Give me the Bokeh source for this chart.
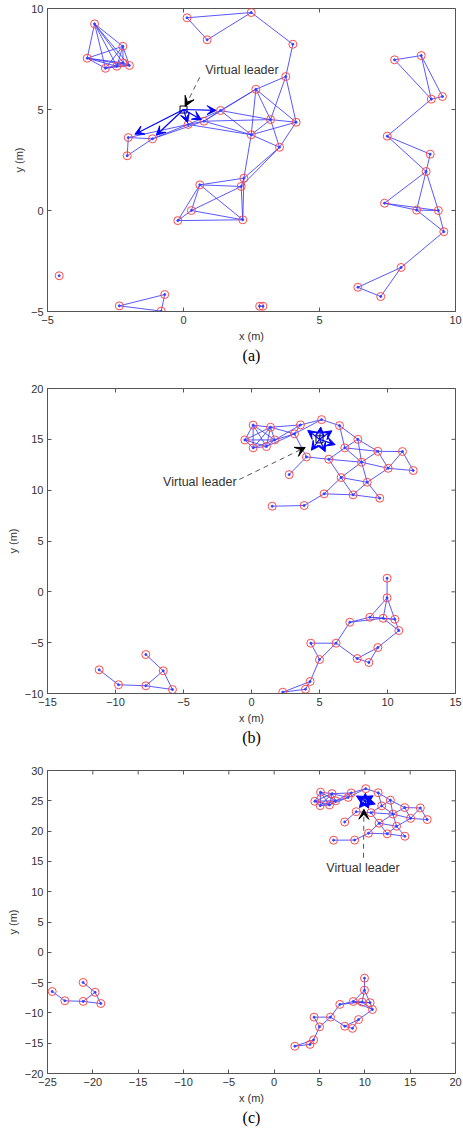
import numpy as np
from bokeh.plotting import figure
from bokeh.layouts import column
from bokeh.models import (Arrow, VeeHead, ColumnDataSource, FixedTicker,
                          Title, Label, Range1d)
from bokeh.embed import file_html
from bokeh.resources import INLINE

# ---------------- panel (a) ----------------
a_x = [-3.27, -2.23, -3.54, -2.87, -2.45, -2.22, -1.99,
       0.13, 0.87, 2.49, 4.02, 3.76, 2.66, 1.36, 0.75, 0.17, 3.20, 4.14, 2.49, 3.53,
       -1.14, -2.03, -2.07, 2.22, 2.12, 0.60, 0.29, -0.21, 2.18,
       -4.57, -0.69, -2.36, -0.82, 2.80, 2.92,
       7.76, 8.74, 9.11, 9.52, 7.49, 9.07, 8.92, 7.39, 8.57, 9.37, 9.57, 8.00, 6.41, 7.25]
a_y = [9.24, 8.13, 7.54, 7.04, 7.14, 7.31, 7.18,
       9.54, 8.45, 9.80, 8.23, 6.63, 6.00, 4.95, 4.42, 4.26, 4.50, 4.37, 3.75, 3.13,
       3.55, 3.61, 2.71, 1.60, 1.19, 1.27, 0.00, -0.50, -0.46,
       -3.23, -4.16, -4.72, -4.98, -4.74, -4.74,
       7.46, 7.67, 5.51, 5.64, 3.68, 2.79, 1.93, 0.36, 0.02, 0.00, -1.05, -2.82, -3.80, -4.26]
a_leader = [0.0, 5.0]
a_informed = [13, 14, 15, 20, 21]
a_range = 2.5

# ---------------- panel (b) ----------------
b_x = [0.12, 1.40, -0.49, 0.12, 1.10, 1.71, 3.16, 3.60, 5.15, 6.47, 7.82,
       4.04, 5.68, 6.86, 9.29, 11.10, 11.89, 10.05, 8.09, 6.59, 8.51, 2.77,
       5.34, 7.47, 9.43, 1.52, 3.87,
       -7.77, -11.20, -6.49, -9.78, -7.77, -5.81,
       9.97, 9.97, 8.70, 9.68, 10.54, 10.83, 7.23, 4.36, 6.22, 5.00, 7.77, 8.63,
       9.29, 4.31, 3.97, 2.30]
b_y = [16.40, 16.19, 14.94, 14.16, 14.29, 14.94, 15.54, 16.42, 16.94, 16.35, 15.00,
       13.27, 13.04, 14.16, 13.82, 13.80, 11.93, 12.15, 12.75, 11.24, 10.78, 11.53,
       9.64, 9.54, 9.21, 8.42, 8.49,
       -6.17, -7.67, -7.77, -9.14, -9.24, -9.61,
       1.34, -0.59, -2.50, -2.60, -2.70, -3.81, -2.99, -5.05, -5.05, -6.66, -6.56, -6.95,
       -5.48, -8.82, -9.58, -9.87]
b_leader = [5.0, 15.0]
b_informed = [7, 8, 9, 13, 12, 11]
b_range = 2.5

# ---------------- panel (c) ----------------
c_x = [5.11, 6.38, 4.48, 5.08, 6.10, 6.78, 8.16, 8.50, 10.10, 11.47, 12.82,
       9.05, 10.68, 11.86, 14.40, 16.12, 16.88, 15.05, 13.10, 11.57, 13.50, 7.78,
       10.40, 12.47, 14.42, 6.55, 8.88,
       -21.07, -24.48, -19.75, -23.09, -21.06, -19.12,
       9.96, 9.96, 8.72, 9.70, 10.58, 10.84, 7.24, 4.40, 6.21, 5.00, 7.79, 8.64,
       9.31, 4.35, 3.95, 2.28]
c_y = [26.42, 26.18, 24.93, 24.20, 24.31, 25.00, 25.56, 26.30, 27.00, 26.33, 25.10,
       23.20, 23.04, 24.16, 23.88, 23.82, 21.90, 22.10, 22.80, 21.30, 20.80, 21.50,
       19.65, 19.55, 19.15, 18.50, 18.52,
       -4.98, -6.47, -6.60, -8.00, -8.10, -8.45,
       -4.27, -6.25, -8.12, -8.22, -8.32, -9.44, -8.60, -10.70, -10.70, -12.30, -12.20, -12.55,
       -11.10, -14.45, -15.20, -15.50]
c_leader = [10.0, 25.0]
c_informed = [7, 8, 9, 13, 12, 11]
c_range = 2.5

a_ticks_x = [-5, 0, 5, 10]
a_ticks_y = [-5, 0, 5, 10]
b_ticks_x = [-15, -10, -5, 0, 5, 10, 15]
b_ticks_y = [-10, -5, 0, 5, 10, 15, 20]
c_ticks_x = [-25, -20, -15, -10, -5, 0, 5, 10, 15, 20]
c_ticks_y = [-20, -15, -10, -5, 0, 5, 10, 15, 20, 25, 30]

FONT = "Liberation Sans"
AX_COLOR = "#555555"
TXT_COLOR = "#333333"
EDGE_COLOR = "#3b3bff"
NODE_COLOR = "#ff4a4a"


def minus(t):
    return str(t).replace("-", "\u2212")


def make_panel(xs, ys, leader, informed, rng, xr, yr, xt, yt, caption,
               height, top, bottom, frac, note):
    p = figure(width=463, height=height, output_backend="svg", toolbar_location=None,
               x_range=Range1d(*xr), y_range=Range1d(*yr),
               min_border_left=47, min_border_right=8,
               min_border_top=top, min_border_bottom=bottom)
    p.grid.visible = False
    p.outline_line_color = AX_COLOR
    p.background_fill_color = "white"
    p.border_fill_color = "white"

    for ax, ticks, lab in ((p.xaxis[0], xt, "x (m)"), (p.yaxis[0], yt, "y (m)")):
        ax.ticker = FixedTicker(ticks=ticks)
        ax.major_label_overrides = {t: minus(t) for t in ticks}
        ax.axis_label = lab
        ax.axis_label_text_font = FONT
        ax.axis_label_text_font_size = "11px"
        ax.axis_label_text_font_style = "normal"
        ax.axis_label_text_color = TXT_COLOR
        ax.axis_label_standoff = 3
        ax.major_label_text_font = FONT
        ax.major_label_text_font_size = "11px"
        ax.major_label_text_color = TXT_COLOR
        ax.major_label_standoff = 4
        ax.major_tick_in = 4
        ax.major_tick_out = 0
        ax.minor_tick_line_color = None
        ax.axis_line_color = AX_COLOR
        ax.major_tick_line_color = AX_COLOR

    # inward tick marks on the top and right edges of the box (clipped to the frame)
    p.scatter(xt, [yr[1]] * len(xt), marker="dash", angle=np.pi / 2, size=8,
              line_color=AX_COLOR, line_width=1)
    p.scatter([xr[1]] * len(yt), yt, marker="dash", size=8,
              line_color=AX_COLOR, line_width=1)

    xs = np.asarray(xs, dtype=float)
    ys = np.asarray(ys, dtype=float)

    # communication links between agents within sensing range
    x0, y0, x1, y1 = [], [], [], []
    n = len(xs)
    for i in range(n):
        for j in range(i + 1, n):
            if np.hypot(xs[i] - xs[j], ys[i] - ys[j]) < rng:
                x0.append(xs[i]); y0.append(ys[i]); x1.append(xs[j]); y1.append(ys[j])
    p.segment(x0=x0, y0=y0, x1=x1, y1=y1, line_color=EDGE_COLOR, line_width=1, line_alpha=0.85)

    # agents
    p.scatter(xs, ys, marker="circle", size=8, fill_color=None, line_color=NODE_COLOR, line_width=1)
    p.scatter(xs, ys, marker="circle", size=2, fill_color=EDGE_COLOR, line_color=EDGE_COLOR)

    # virtual leader and its links to the informed agents
    lx, ly = leader
    ex = [lx + frac * (xs[k] - lx) for k in informed]
    ey = [ly + frac * (ys[k] - ly) for k in informed]
    src = ColumnDataSource(dict(x0=[lx] * len(informed), y0=[ly] * len(informed), x1=ex, y1=ey))
    p.add_layout(Arrow(x_start="x0", y_start="y0", x_end="x1", y_end="y1", source=src,
                       line_color="#0000ff", line_width=1.2,
                       end=VeeHead(size=9, fill_color="#0000ff", line_color="#0000ff")))
    p.scatter([lx], [ly], marker="square", size=7, fill_color=None, line_color="black", line_width=1)

    # "Virtual leader" annotation
    (tx, ty, align), (sx, sy, fx, fy) = note
    p.add_layout(Label(x=tx, y=ty, text="Virtual leader", text_align=align, text_baseline="middle",
                       text_font=FONT, text_font_size="12.5px", text_color=TXT_COLOR))
    p.add_layout(Arrow(x_start=sx, y_start=sy, x_end=fx, y_end=fy, line_color="#555555",
                       line_width=1, line_dash="5 4",
                       end=VeeHead(size=10, fill_color="black", line_color="black")))

    p.add_layout(Title(text=caption, align="center", text_font="Liberation Serif",
                       text_font_size="16px", text_font_style="normal", text_color="black",
                       standoff=0), "below")
    return p


pa = make_panel(a_x, a_y, a_leader, a_informed, a_range, (-5, 10), (-5, 10),
                a_ticks_x, a_ticks_y, "(a)", 365, 8, 54, 0.88,
                ((0.8, 6.95, "left"), (0.6, 6.6, 0.06, 5.15)))
pb = make_panel(b_x, b_y, b_leader, b_informed, b_range, (-15, 15), (-10, 20),
                b_ticks_x, b_ticks_y, "(b)", 387, 23, 59, 0.62,
                ((-1.1, 10.85, "right"), (-0.9, 11.05, 3.95, 14.2)))
pc = make_panel(c_x, c_y, c_leader, c_informed, c_range, (-25, 20), (-20, 30),
                c_ticks_x, c_ticks_y, "(c)", 387, 18, 66, 0.62,
                ((9.8, 13.9, "center"), (9.85, 15.6, 9.9, 23.6)))

layout = column(pa, pb, pc, spacing=0)
open("out.html", "w").write(file_html(layout, INLINE))
